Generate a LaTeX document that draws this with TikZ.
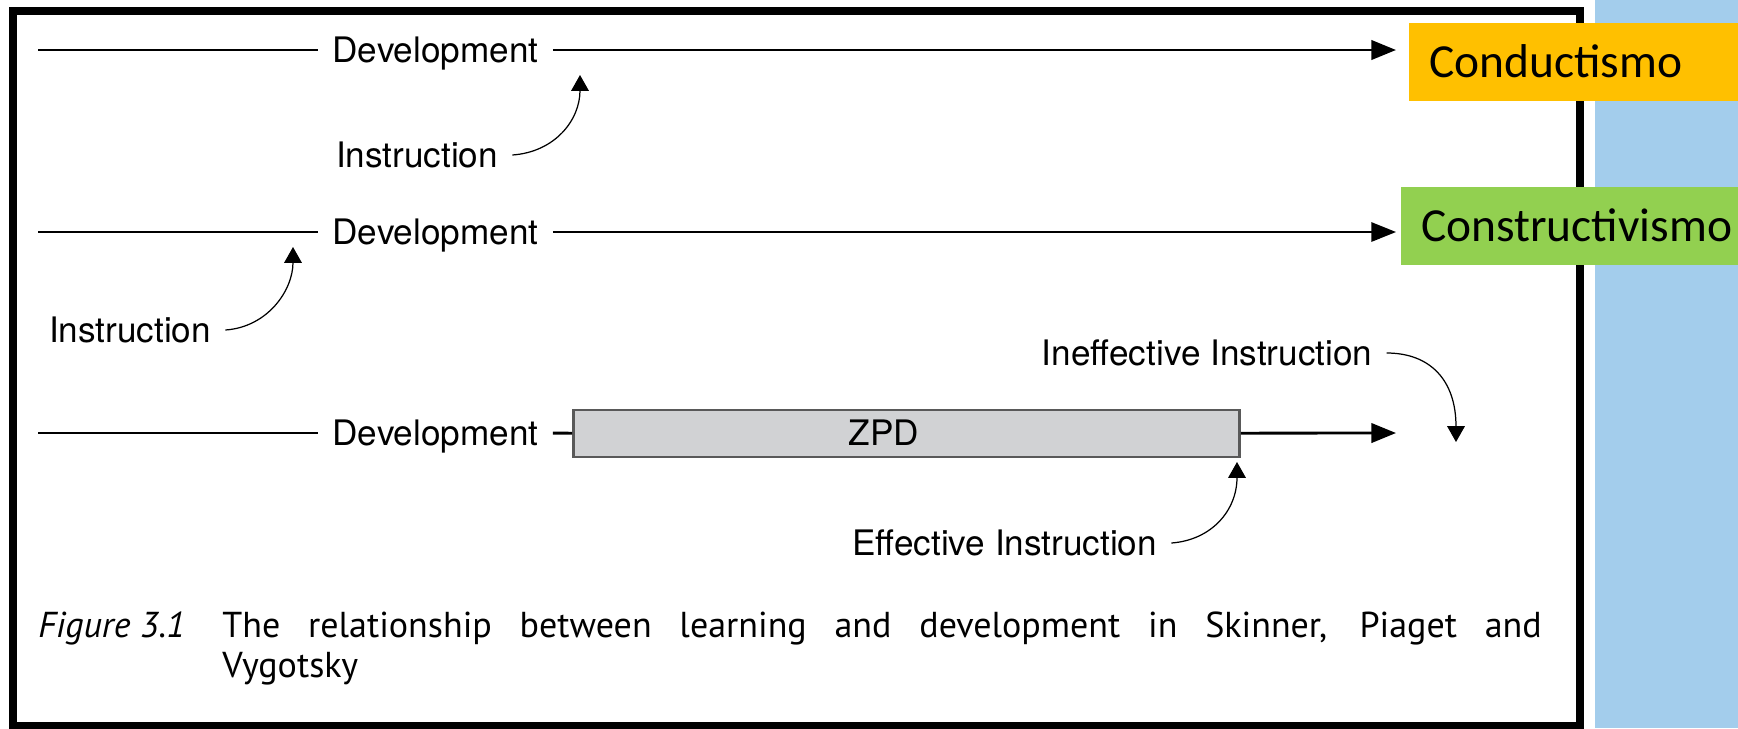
\documentclass[tikz,border=0pt]{standalone}
\usepackage{fontspec}
\usetikzlibrary{arrows.meta}
\newfontfamily\helv{TeX Gyre Heros}
\newfontfamily\calib{Carlito}
\newfontfamily\gill{PT Sans}
\definecolor{condyellow}{RGB}{255,192,0}
\definecolor{consgreen}{RGB}{146,208,80}
\definecolor{sideblue}{RGB}{163,205,236}
\definecolor{zpdgray}{RGB}{209,210,212}
\begin{document}
\begin{tikzpicture}[x = 0.02cm, y = -0.02cm,
	dev/.style = {font = \helv\fontsize{20}{24}\selectfont, inner xsep = 8pt, inner ysep = 0pt, text height = 14.4pt, text depth = 0pt},
	instr/.style = {dev},
	tag/.style = {anchor = north west, align = left, inner xsep = 11.3pt, inner ysep = 0pt, minimum height = 44pt, font = \calib\fontsize{27}{32}\selectfont, text height = 17.4pt, text depth = 0pt},
	capt/.style = {anchor = base west, inner sep = 0pt, font = \gill\fontsize{20.5}{24}\selectfont},
	long/.style = {-{Triangle[length = 14pt, width = 11pt]}},
	curved/.style = {line width = 0.7pt, -{Triangle[length = 9pt, width = 10pt]}}]
	\useasboundingbox (0, 0) rectangle (1738, 728);
	\fill[white] (0, 0) rectangle (1738, 728);
	\fill[sideblue] (1595, 0) rectangle (1738, 728);
	\draw[line width = 4.5pt] (13, 11) rectangle (1580, 726);
	
	\foreach \n/\y/\w in {1/50/1.6pt, 2/232/1pt, 3/433/1.6pt} {
		\coordinate (start\n) at (38, \y);
		\coordinate (tip\n) at (1396, \y);
		\node (dev\n) at (435.5, \y) [dev] {Development};
		\draw[line width = \w] (start\n) -- (dev\n);
	}
	
	\node (zpd) at (906.5, 433.5) [draw = black!65, line width = 1.5pt, fill = zpdgray, minimum width = 379pt, minimum height = 26.6pt, inner sep = 0pt] {};
	\node (zpdtext) at (884, 433) [dev, inner xsep = 0pt] {ZPD};
	
	\draw[long, line width = 1.6pt] (dev1) -- (tip1);
	\draw[long, line width = 1pt] (dev2) -- (tip2);
	\draw[line width = 1.6pt] (dev3) -- (zpd);
	\draw[long, line width = 1.6pt] (zpd) -- (tip3);
	
	\node (ins1) at (417, 155) [instr] {Instruction};
	\node (ins2) at (130, 330) [instr] {Instruction};
	\node (ineff) at (1207, 353) [instr] {Ineffective Instruction};
	\node (eff) at (1004.5, 543) [instr] {Effective Instruction};
	\coordinate (up1) at (580, 75);
	\coordinate (up2) at (293, 247);
	\coordinate (down3) at (1456, 442);
	\coordinate (up4) at (1237, 462);
	\draw[curved] (ins1.east) .. controls (555, 152) and (580, 120) .. (up1);
	\draw[curved] (ins2.east) .. controls (268, 327) and (293, 290) .. (up2);
	\draw[curved] (ineff.east) .. controls (1430, 353) and (1456, 380) .. (down3);
	\draw[curved] (eff.east) .. controls (1212, 540) and (1237, 510) .. (up4);
	
	\node (cond) at (1409, 23) [tag, fill = condyellow, text width = 176pt] {Conductismo};
	\node (cons) at (1401, 187) [tag, fill = consgreen, text width = 181pt] {Constructivismo};
	
	\node (fig) at (38, 637) [capt, font = \gill\itshape\fontsize{20.5}{24}\selectfont] {Figure 3.1};
	\node (cap1) at (222, 637) [capt] {\makebox[751pt][s]{The relationship between learning and development in Skinner, Piaget and}};
	\node (cap2) at (222, 677) [capt] {Vygotsky};
\end{tikzpicture}
\end{document}
